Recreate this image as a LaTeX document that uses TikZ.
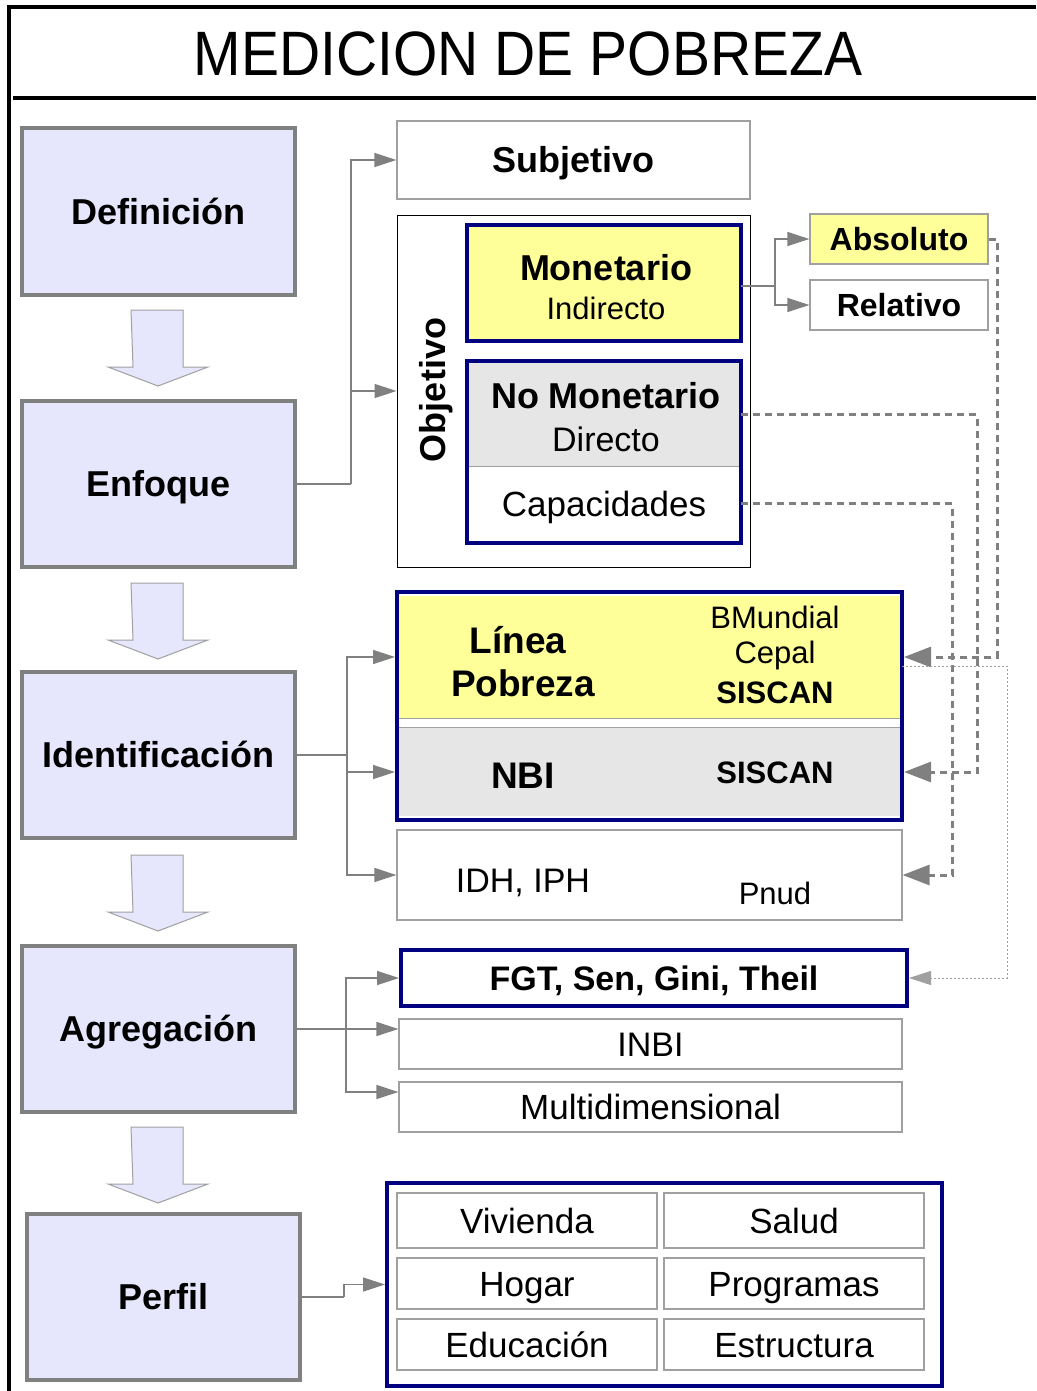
\documentclass[tikz,border=0pt]{standalone}
\usepackage{fontspec}
\setmainfont{Liberation Sans}
\usetikzlibrary{arrows.meta,calc}
\definecolor{navy}{HTML}{000080}
\definecolor{lav}{HTML}{E6E6FC}
\definecolor{yel}{HTML}{FFFF99}
\definecolor{lgray}{HTML}{E6E6E6}
\definecolor{cgray}{HTML}{808080}
\definecolor{bgray}{HTML}{A0A0A0}
\newcommand\fs[1]{\fontsize{#1}{#1}\selectfont}
\tikzset{
  f/.style={font=\fs{#1}, text height={0.72*#1}, text depth=0pt},
  fb/.style={font=\fs{#1}\bfseries, text height={0.72*#1}, text depth=0pt},
  lbox/.style={fb=36, draw=cgray, line width=4pt, fill=lav, minimum width=273pt, inner sep=0pt},
  gbox/.style={draw=bgray, line width=1.2pt, fill=white, inner sep=0pt},
  nbox/.style={draw=navy, line width=4pt, inner sep=0pt, outer sep=0pt},
  plain/.style={inner sep=0pt},
  conn/.style={draw=cgray, line width=1.5pt},
  arr/.style={conn, -{Triangle[length=22pt,width=14pt]}},
  dsh/.style={draw=cgray, line width=3pt, dash pattern=on 7pt off 5pt, -{Triangle[length=27pt,width=20pt]}},
  dot/.style={draw=bgray, line width=1pt, dash pattern=on 2pt off 2pt, -{Triangle[length=22pt,width=14pt]}},
  blockarrow/.style={draw=bgray, line width=1pt, fill=lav},
}
\begin{document}
\begin{tikzpicture}[x=1pt,y=-1pt]
\useasboundingbox (0,0) rectangle (1036,1391);
% frame
\draw[line width=4pt] (9,1391) -- (9,7.5) -- (1036,7.5);
\draw[line width=4.5pt] (13,98) -- (1036,98);
\node[plain, text height=45pt, text depth=0pt] (title) at (528,53.5) {\scalebox{1}[1.1]{\fs{57}MEDICION DE POBREZA}};

% left column
\node[lbox, minimum height=167pt] (def) at (158.5,211.5) {Definición};
\node[lbox, minimum height=166pt] (enf) at (158.5,484) {Enfoque};
\node[lbox, minimum height=166pt] (ide) at (158.5,755) {Identificación};
\node[lbox, minimum height=166pt] (agr) at (158.5,1029) {Agregación};
\node[lbox, minimum height=166pt] (per) at (163.5,1297) {Perfil};

% block arrows
\foreach \y in {310,583,855,1127}{
  \draw[blockarrow] (131,\y) -- (183,\y) -- (183,\y+57) -- (208,\y+57) -- (158,\y+76) -- (108,\y+57) -- (133,\y+57) -- cycle;
}

% Enfoque branch
\node[gbox, fb=36, minimum width=353pt, minimum height=78pt] (subj) at (573.5,160) {Subjetivo};
\node[draw=black, line width=1pt, minimum width=353pt, minimum height=352pt, inner sep=0pt] (obj) at (573.5,391) {};
\node[plain, rotate=90, fb=36] (objt) at (433,390) {Objetivo};
\node[nbox, fill=yel, minimum width=274pt, minimum height=116pt] (mon) at (604,283) {};
\node[plain, fb=36] (mont) at (606,268) {Monetario};
\node[plain, f=31] (ind) at (606,308) {Indirecto};
\node[nbox, fill=white, minimum width=274pt, minimum height=182pt] (nomon) at (604,452) {};
\node[fill=lgray, minimum width=270pt, minimum height=103pt, inner sep=0pt] (nmU) at (604,414.5) {};
\node[minimum width=270pt, minimum height=75pt, inner sep=0pt] (nmL) at (604,503.5) {};
\draw[bgray, line width=1pt] (nmU.south west) -- (nmU.south east);
\draw[navy, line width=4pt] (nomon.north west) rectangle (nomon.south east);
\node[plain, fb=36] (nmt) at (606,396) {No Monetario};
\node[plain, f=34] (dir) at (606,439) {Directo};
\node[plain, f=35] (cap) at (604,503.5) {Capacidades};
\node[gbox, fill=yel, fb=32, minimum width=178pt, minimum height=50pt] (abs) at (899,239) {Absoluto};
\node[gbox, fb=32, minimum width=178pt, minimum height=50pt] (rel) at (899,305) {Relativo};

\coordinate (j1) at (351,484);
\draw[conn] (enf.east) -- (j1);
\draw[arr] (j1) |- (subj.west);
\draw[arr] (j1) |- (obj.west);
\coordinate (j2) at (775,286);
\draw[conn] (mon.east |- j2) -- (j2);
\draw[arr] (j2) |- (abs.west);
\draw[arr] (j2) |- (rel.west);

% Identificacion branch
\node[nbox, fill=white, minimum width=505pt, minimum height=228pt] (lgrp) at (649.5,706) {};
\node[fill=yel, minimum width=501pt, minimum height=122pt, inner sep=0pt] (lp) at (649.5,657) {};
\node[fill=lgray, minimum width=501pt, minimum height=88pt, inner sep=0pt] (nbi) at (649.5,772) {};
\draw[bgray, line width=1pt] (lp.south west) -- (lp.south east);
\draw[bgray, line width=1pt] (nbi.north west) -- (nbi.north east);
\draw[navy, line width=4pt] (lgrp.north west) rectangle (lgrp.south east);
\node[plain, fb=37] (lpt) at (518,640) {Línea};
\node[plain, fb=37] (lpt2) at (523,683) {Pobreza};
\node[plain, f=31] (bm) at (775,617) {BMundial};
\node[plain, f=31] (cep) at (775,652) {Cepal};
\node[plain, fb=31] (sis1) at (775,692) {SISCAN};
\node[plain, fb=37] (nbit) at (523,775) {NBI};
\node[plain, fb=31] (sis2) at (775,772.5) {SISCAN};
\node[gbox, minimum width=505pt, minimum height=90pt] (idh) at (649.5,875) {};
\node[plain, f=34] (idht) at (523,880) {IDH, IPH};
\node[plain, f=31] (pnud) at (775,893) {Pnud};

\coordinate (j3) at (347,755);
\draw[conn] (ide.east) -- (j3);
\draw[arr] (j3) |- ([xshift=-2pt]lgrp.west |- lp);
\draw[arr] (j3) |- ([xshift=-2pt]lgrp.west |- nbi);
\draw[arr] (j3) |- (idh.west);

% Agregacion branch
\node[nbox, fb=34, fill=white, minimum width=506pt, minimum height=56pt] (fgt) at (654,978) {FGT, Sen, Gini, Theil};
\node[gbox, f=34, minimum width=503pt, minimum height=50pt] (inbi) at (650.5,1044) {INBI};
\node[gbox, f=35, minimum width=503pt, minimum height=50pt] (multi) at (650.5,1107) {Multidimensional};
\coordinate (j4) at (346,1029);
\draw[conn] (agr.east) -- (j4);
\draw[arr] (j4) |- ([xshift=-2pt]fgt.west);
\draw[arr] (j4) -- (inbi.west |- j4);
\draw[arr] (j4) |- ([yshift=15pt]multi.west);

% Perfil branch
\node[nbox, fill=white, minimum width=555pt, minimum height=203pt] (pgrp) at (664.5,1284.5) {};
\node[gbox, f=35, minimum width=260pt, minimum height=55pt] (viv) at (527,1220.5) {Vivienda};
\node[gbox, f=35, minimum width=260pt, minimum height=55pt] (sal) at (794,1220.5) {Salud};
\node[gbox, f=35, minimum width=260pt, minimum height=51pt] (hog) at (527,1283.5) {Hogar};
\node[gbox, f=35, minimum width=260pt, minimum height=51pt] (prog) at (794,1283.5) {Programas};
\node[gbox, f=35, minimum width=260pt, minimum height=51pt] (edu) at (527,1344.5) {Educación};
\node[gbox, f=35, minimum width=260pt, minimum height=51pt] (est) at (794,1344.5) {Estructura};
\coordinate (j5) at (344,1297);
\draw[conn] (per.east) -- (j5);
\draw[arr] (j5) |- ([xshift=-2pt]pgrp.west);

% dashed cross links
\coordinate (d1) at (997,0);
\coordinate (d2) at (977,0);
\coordinate (d3) at (952,0);
\coordinate (d4) at (1007,666);
\draw[dsh] (abs.east) -| (d1 |- lp) -- ([xshift=2pt]lgrp.east |- lp);
\draw[dsh] (nomon.east |- nmU) -| (d2 |- nbi) -- ([xshift=2pt]lgrp.east |- nbi);
\draw[dsh] (nomon.east |- nmL) -| (d3 |- idh) -- (idh.east);
\draw[dot] (lgrp.east |- d4) -- (d4) |- ([xshift=2pt]fgt.east);
\end{tikzpicture}
\end{document}
